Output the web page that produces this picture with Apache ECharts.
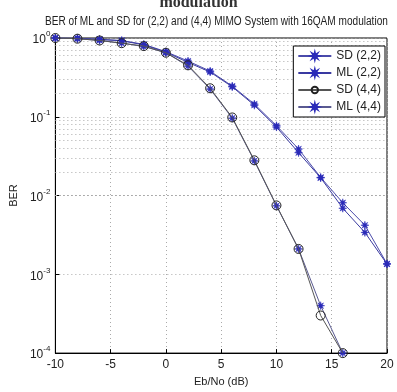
<!DOCTYPE html>
<html>
<head>
<meta charset="utf-8">
<script src="https://cdn.jsdelivr.net/npm/echarts@6/dist/echarts.min.js"></script>
<style>
  html, body { margin: 0; padding: 0; background: #fff; }
  #chart { width: 397px; height: 392px; }
</style>
</head>
<body>
<div id="chart"></div>
<script>
// --- Data ---
const ebno = [-10, -8, -6, -4, -2, 0, 2, 4, 6, 8, 10, 12, 14, 16, 18, 20]
const sd22 = [1.0, 0.99, 0.96, 0.93, 0.83, 0.67, 0.51, 0.38, 0.245, 0.145, 0.077, 0.039, 0.017, 0.0081, 0.0042, 0.00136]
const ml22 = [1.0, 0.99, 0.96, 0.92, 0.82, 0.66, 0.49, 0.37, 0.24, 0.14, 0.074, 0.035, 0.0168, 0.0069, 0.0034, 0.00135]
const sd44 = [1.0, 0.98, 0.93, 0.86, 0.79, 0.65, 0.45, 0.23, 0.098, 0.028, 0.0075, 0.0021, 0.0003, 0.0001]
const ml44 = [1.0, 0.98, 0.93, 0.86, 0.78, 0.65, 0.44, 0.225, 0.096, 0.0275, 0.0074, 0.0021, 0.0004, 0.0001]
const decades = [-4, -3, -2, -1]
const minorSteps = [2, 3, 4, 5, 6, 7, 8, 9]

const font = 'Liberation Sans, Arial, sans-serif'
const star = 'path://M10,0L3.7,1.53L7.07,7.07L1.53,3.7L0,10L-1.53,3.7L-7.07,7.07L-3.7,1.53L-10,0L-3.7,-1.53L-7.07,-7.07L-1.53,-3.7L0,-10L1.53,-3.7L7.07,-7.07L3.7,-1.53Z'

const pairs = (ys) => ys.map((y, i) => [ebno[i], y])

// minor log grid lines (2..9 x 10^k)
const minorLines = []
decades.forEach((k) => {
  minorSteps.forEach((m) => minorLines.push({ yAxis: m * Math.pow(10, k) }))
})

const chart = echarts.init(document.getElementById('chart'))

const lineSeries = (name, ys, color, symbol, markerColor, filled, z) => ({
  name,
  type: 'line',
  data: pairs(ys),
  symbol,
  symbolSize: symbol === 'circle' ? 9 : 8,
  showAllSymbol: true,
  lineStyle: { color, width: 1 },
  itemStyle: filled
    ? { color: markerColor, borderColor: markerColor, borderWidth: 0.5 }
    : { color: 'rgba(255,255,255,0)', borderColor: markerColor, borderWidth: 1 },
  emphasis: { disabled: true },
  z,
})

const option = {
  animation: false,
  backgroundColor: '#fff',
  textStyle: { fontFamily: font },
  graphic: [
    {
      type: 'text',
      left: 'center',
      top: -5,
      style: { text: 'modulation', font: 'bold 16px "Liberation Serif", serif', fill: '#333' },
    },
    {
      type: 'text',
      x: 45,
      y: 16,
      scaleX: 0.84,
      style: {
        text: 'BER of ML and SD for (2,2) and (4,4) MIMO System with 16QAM modulation',
        font: '12px "Liberation Sans", Arial, sans-serif',
        fill: '#222',
      },
    },
  ],
  grid: {
    left: 37,
    right: 10,
    top: 38,
    bottom: 35,
    show: true,
    borderColor: '#000',
    borderWidth: 1,
    backgroundColor: 'transparent',
  },
  legend: {
    orient: 'vertical',
    right: 12,
    top: 46,
    backgroundColor: '#fff',
    borderColor: '#000',
    borderWidth: 1,
    padding: [4, 4, 4, 4],
    itemWidth: 33,
    itemHeight: 8,
    itemGap: 5,
    textStyle: { fontFamily: font, fontSize: 12, color: '#222' },
    data: ['SD (2,2)', 'ML (2,2)', 'SD (4,4)', 'ML (4,4)'],
  },
  xAxis: {
    type: 'value',
    min: -10,
    max: 20,
    interval: 5,
    name: 'Eb/No (dB)',
    nameLocation: 'middle',
    nameGap: 21,
    nameTextStyle: { fontFamily: font, fontSize: 11, color: '#222' },
    axisLine: { onZero: false, lineStyle: { color: '#000' } },
    axisTick: { inside: true, length: 4, lineStyle: { color: '#000' } },
    axisLabel: { fontFamily: font, fontSize: 12, color: '#222', margin: 6 },
    splitLine: { show: true, lineStyle: { color: '#aaa', type: [1, 3] } },
  },
  yAxis: {
    type: 'log',
    logBase: 10,
    min: 1e-4,
    max: 1,
    name: 'BER',
    nameLocation: 'middle',
    nameGap: 23,
    nameRotate: 90,
    nameTextStyle: { fontFamily: font, fontSize: 11, color: '#222' },
    axisLine: { onZero: false, lineStyle: { color: '#000' } },
    axisTick: { inside: true, length: 4, lineStyle: { color: '#000' } },
    axisLabel: {
      margin: 5,
      formatter: (v) => `{b|10}{s|${Math.round(Math.log10(v))}}`,
      rich: {
        b: { fontFamily: font, fontSize: 12, color: '#222', verticalAlign: 'bottom' },
        s: { fontFamily: font, fontSize: 8, color: '#222', verticalAlign: 'top', padding: [0, 0, 8, 0] },
      },
    },
    splitLine: { show: true, lineStyle: { color: '#aaa', type: [1, 3] } },
  },
  series: [
    {
      ...lineSeries('SD (2,2)', sd22, '#4b4baa', star, '#2a2ab8', true, 3),
      markLine: {
        silent: true,
        symbol: 'none',
        label: { show: false },
        lineStyle: { color: '#aaa', type: [1, 3], width: 1 },
        data: minorLines,
        z: 1,
      },
    },
    lineSeries('ML (2,2)', ml22, '#3a3aa0', star, '#2a2ab8', true, 3),
    lineSeries('SD (4,4)', sd44, '#555', 'circle', '#222', false, 5),
    lineSeries('ML (4,4)', ml44, '#5a5a90', star, '#2a2ab8', true, 4),
  ],
}

chart.setOption(option)
</script>
</body>
</html>
